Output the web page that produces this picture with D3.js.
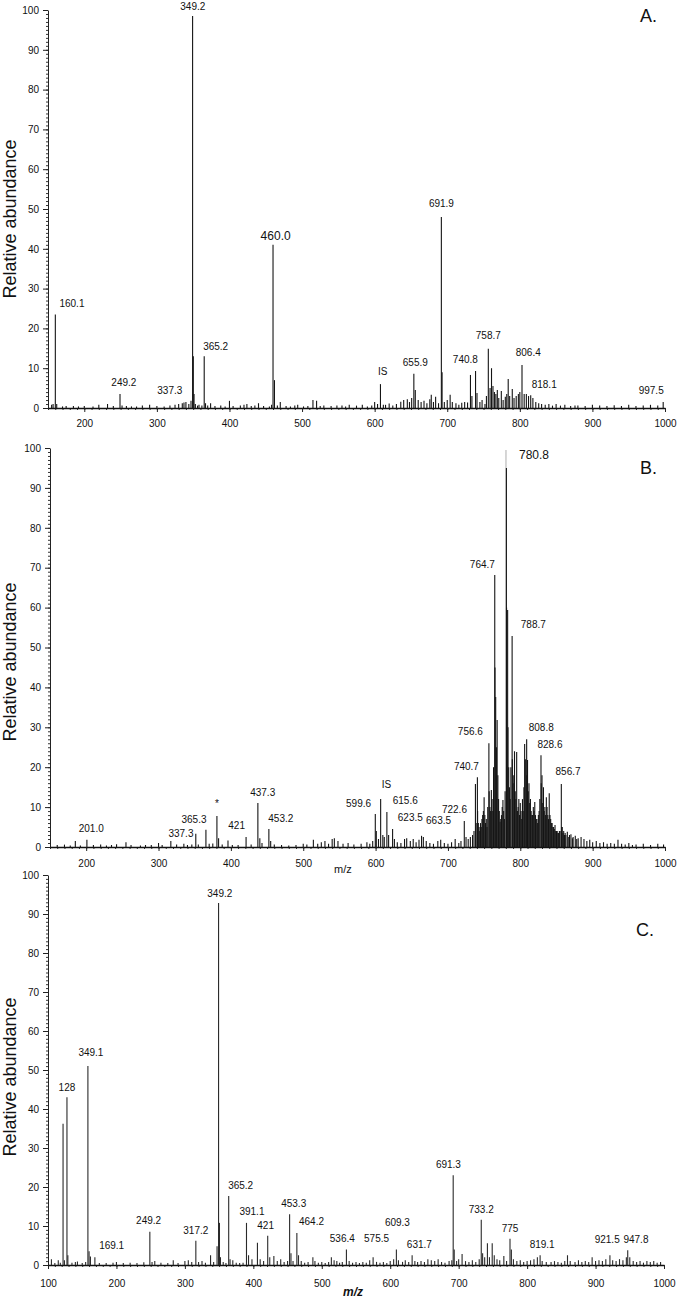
<!DOCTYPE html>
<html><head><meta charset="utf-8">
<script src="https://cdn.jsdelivr.net/npm/d3@7"></script>
<style>
body{margin:0;background:#fff}
svg{display:block}
text{font-family:"Liberation Sans",Arial,Helvetica,sans-serif;fill:#111}
</style>
</head><body>
<svg id="chart" width="677" height="1298"></svg>
<script>
// ---------- DATA ----------
const yTickValues = [0,10,20,30,40,50,60,70,80,90,100];
const xTicksA = [200,300,400,500,600,700,800,900,1000];
const xTicksB = [200,300,400,500,600,700,800,900,1000];
const xTicksC = [100,200,300,400,500,600,700,800,900,1000];

// Panel A peaks [m/z, relative abundance]
const peaksA = [
 [155,0.8],[157,1.0],[160.1,23.5],[162,1.0],[170,0.4],[175,0.5],[185,0.5],[192,0.4],[200,0.5],[212,0.4],[220,0.8],[232,1.0],[240,0.5],
 [249.2,3.5],[252,0.6],[258,0.5],[265,0.4],[272,0.4],[280,0.6],[290,0.8],[300,0.5],[310,0.4],[318,0.6],[325,0.8],[330,1.0],
 [335,1.2],[337.3,1.4],[340,1.5],[344,1.0],[347,1.8],[349.2,98.5],[350.2,13],[351.2,3.5],[353,1.0],[356,0.6],[358,0.8],[362,0.6],
 [365.2,13],[367,1.2],[370,0.6],[374,1.2],[380,0.5],[388,0.6],[394,0.4],[400,1.8],[405,0.5],[415,0.6],[420,0.8],[424,1.0],
 [430,0.5],[435,0.6],[440,1.2],[447,0.5],[455,0.4],[458,0.8],[460,41],[462,7],[466,0.6],[470,1.5],[478,0.5],[484,0.4],[490,0.6],
 [494,0.8],[502,0.4],[508,0.5],[515,2.0],[520,1.8],[525,0.5],[530,0.6],[540,0.5],[548,0.6],[555,0.6],[560,0.4],[565,0.8],[575,0.6],
 [583,0.8],[590,0.4],[596,0.6],[600,1.5],[604,1.0],[608,6.0],[612,0.8],[615,0.8],[620,1.1],[625,0.6],[630,1.0],[636,1.6],[640,2.0],
 [645,2.2],[648,1.5],[651,2.5],[654,8.6],[656,4.5],[660,2.0],[664,1.5],[668,1.8],[672,1.2],[676,2.2],[678,3.3],[681,1.5],[684,2.8],
 [688,1.2],[691.9,48],[692.9,9],[696,1.5],[700,2.0],[704,3.3],[707,1.5],[712,1.2],[716,0.8],[720,1.3],[724,1.5],[728,1.4],
 [732,8.3],[734,3.0],[739,9.3],[741,3.8],[745,1.5],[748,2.0],[752,1.0],[754,3.0],[756.6,14.9],[759,5.0],[761,10],[763,5.5],
 [765,4.0],[767,3.5],[769,4.5],[771,2.5],[774.5,4.3],[777,2.0],[780,2.8],[782,3.5],[784,7.3],[786,3.0],[789.6,4.8],[792,2.5],
 [795,3.0],[798,3.5],[800,4.0],[803,10.8],[806,3.5],[809,3.5],[812,3.0],[815,3.2],[818,2.5],[822,1.5],[826,1.2],[830,1.0],
 [835,0.8],[840,1.0],[845,0.6],[850,1.0],[856,0.6],[862,0.8],[870,0.5],[876,0.6],[880,0.6],[890,0.5],[900,0.8],[910,0.6],
 [920,0.5],[930,0.7],[940,0.5],[950,0.8],[960,0.5],[970,0.6],[980,0.8],[990,0.6],[997.5,1.5]
];
// Panel A labels [text, m/z, abundance]
const labelsA = [
 ["349.2",349.5,100.1],["460.0",463.6,42.2],["691.9",692,50.5],["160.1",183,25.4],["365.2",381,14.6],
 ["249.2",254.5,5.5],["337.3",317.8,3.5],["IS",611,8.3],["655.9",656,10.6],["740.8",725,11.3],
 ["758.7",756.6,17.3],["806.4",811.6,13],["818.1",833.6,5],["997.5",981,3.5]
];

// Panel B peaks
const peaksB = [
 [160,0.5],[170,0.6],[178,0.4],[185,1.5],[192,0.4],[201,1.8],[210,0.5],[220,0.6],[228,0.4],[235,0.5],[242,0.7],[255,1.2],[262,0.5],
 [275,0.4],[282,0.5],[290,0.5],[300,1.0],[305,0.5],[317,1.5],[325,0.6],[335,0.8],[340,0.5],[346,0.6],[351.5,3.3],[355,0.6],
 [365.5,4.3],[370,0.8],[375,0.9],[380.7,7.8],[383,2.2],[388,0.6],[396,1.6],[402,0.5],[410,0.5],[421,2.5],[428,0.6],[437.3,11],
 [440,2.2],[443,1.0],[452.5,4.5],[455,1.5],[460,0.6],[470,0.5],[480,0.4],[490,0.5],[500,0.8],[505,0.6],[514,1.8],[520,0.8],
 [525,1.2],[530,1.5],[535,0.8],[540,2.0],[543,2.2],[548,1.5],[555,0.8],[562,1.0],[570,0.6],[580,0.8],[588,1.2],[592,0.8],
 [596,1.5],[599.6,8.3],[601,4.0],[604,2.0],[607,12],[610,3.0],[612,2.5],[615.6,8.8],[618,3.0],[623.5,4.5],[626,2.0],[630,1.2],
 [635,1.0],[640,2.0],[643,2.2],[648,1.5],[652,2.0],[656,1.2],[660,1.8],[663.5,2.8],[666,2.5],[670,1.5],[675,1.0],[680,0.8],
 [686,1.5],[690,1.8],[695,1.0],[700,0.8],[705,1.2],[710,2.0],[715,1.0],[718,1.5],[722.6,6.5],[725,2.5],[728,2.0],[731,2.5],
 [734,3.0],[736,4.0],[738,15.8],[740.7,17.5],[742,6.0],[744,4.0],[746,5.0],[748,8.0],[750,12.5],[752,6.0],[754,5.0],
 [756.6,26],[758,10],[760,14.3],[762,9.0],[764.7,68.2],[766,37.6],[768,31.8],[770,12],[772,6.3],[774,8.0],[776,11.8],[778,7.0],
 [780.8,95],[782.5,59.4],[784,20],[786,12],[788.7,52.9],[790,16],[792,24],[795,23.8],[797,10],[800,11],[802,7.0],[804,9.0],
 [806,25.8],[808.8,27],[810,21.8],[812,16],[814,12],[816,8.0],[818,10],[820,11.3],[822,7.0],[824,6.0],[826,9.0],[828.6,23],
 [830,18],[832,15],[834,10],[836,12.5],[838,8.0],[840,13.5],[842,7.0],[844,6.0],[846,5.0],[848,5.5],[850,4.0],[852,3.5],
 [854,4.0],[856.7,15.8],[858,5.0],[860,4.0],[862,3.5],[865,3.8],[868,3.0],[870,3.2],[873,2.5],[876,2.8],[880,2.2],[884,2.5],
 [888,2.0],[892,1.5],[896,1.8],[900,1.2],[905,1.5],[910,1.0],[915,1.2],[920,0.8],[925,1.0],[930,0.8],[935,1.8],[940,0.8],
 [945,0.6],[950,1.0],[955,0.5],[960,0.6],[970,0.8],[980,0.5],[990,0.8],[998,0.6],
 // fill of the dense cluster
 [739,6],[741,9],[743,5],[745,6],[747,7],[749,9],[751,8],[753,7],[755,10],[757,14],[759,9],[761,12],[763,20],[765,45],
 [767,25],[769,18],[771,9],[773,7],[775,10],[777,9],[779,14],[781,60],[783,30],[785,15],[787,20],[789,22],[791,18],[793,14],
 [794,12],[796,9],[798,12],[799,8],[801,9],[803,12],[805,15],[807,22],[809,18],[811,14],[813,11],[815,9],[817,8],[819,9],
 [821,8],[823,7],[825,8],[827,12],[829,16],[831,11],[833,9],[835,8],[837,10],[839,7],[841,8],[843,6],[845,5],[847,4.5],
 [849,4],[851,4],[853,3.5],[855,4],[857,5],[859,3.5],[861,3],[863,3],[867,2.5],[872,2.2],[878,2]
];
const peaksBFaint = [[780.2,99.5]];
const labelsB = [
 ["780.8",819,97.2],["764.7",747.6,69.9],["788.7",818,54.9],["756.6",731,28],["808.8",829,29],["828.6",841,24.8],
 ["740.7",725.5,19.3],["856.7",866,18],["IS",615,14.8],["599.6",576.5,10],["615.6",641,10.8],["722.6",709,8.5],
 ["623.5",648,6.5],["663.5",687,5.8],["201.0",207,3.8],["337.3",331,2.5],["365.3",349,6],["*",380.7,10],
 ["421",408,4.5],["437.3",444,12.8],["453.2",469,6.3]
];

// Panel C peaks
const peaksC = [
 [105,1.5],[110,0.5],[115,1.2],[118,0.6],[122,36.2],[124,1.2],[127.7,43],[129,2.5],[135,0.6],[140,0.8],[143,0.9],[150,0.5],
 [155,0.8],[158.3,51],[160,3.5],[162,2.2],[168.5,2.0],[175,0.5],[185,0.5],[195,0.6],[200,0.8],[210,0.5],[220,0.6],[230,0.5],
 [240,0.7],[248.8,8.5],[252,0.8],[256,1.0],[265,0.6],[275,0.5],[283,1.2],[290,0.5],[300,1.0],[305,1.2],[310,0.8],[316,6.2],
 [320,0.8],[325,1.0],[330,0.6],[337.5,2.5],[342,0.8],[347,4.8],[349.2,92.8],[350.5,10.8],[352,2.0],[356,0.8],[360,0.5],
 [364,17.7],[366,1.5],[370,1.2],[375,0.6],[380,0.5],[385,0.6],[390,10.8],[393,2.5],[398,1.5],[406,5.7],[410,1.5],[415,1.0],
 [421,7.5],[424,2.0],[430,2.3],[435,1.0],[440,1.5],[445,0.8],[450,1.0],[453,13],[455,3.0],[458,1.0],[463.6,8.2],[466,2.5],
 [470,1.0],[475,0.6],[480,0.8],[487,2.0],[490,1.0],[495,0.6],[500,0.8],[505,0.5],[510,0.8],[514,2.0],[518,1.2],[522,1.0],
 [526,0.6],[530,0.8],[536,4.0],[540,1.0],[545,0.6],[550,0.8],[555,0.5],[560,0.8],[565,0.6],[570,1.2],[575,2.0],[580,0.8],
 [585,0.6],[590,0.8],[595,0.5],[600,1.0],[605,1.5],[609,4.0],[612,1.2],[618,0.8],[622,1.2],[627,0.8],[632,2.5],[636,1.0],
 [640,0.8],[645,1.0],[650,0.8],[655,1.5],[660,1.2],[665,1.0],[670,1.5],[675,0.8],[680,0.6],[686,1.0],[690,1.2],[692,23],
 [693.5,4.0],[697,1.0],[700,1.5],[705,2.8],[710,1.0],[715,0.8],[720,1.2],[725,0.8],[730,1.5],[733,11.6],[735,3.0],[738,2.0],
 [742,5.6],[745,2.0],[749,5.6],[752,2.5],[756,1.5],[760,1.2],[766,2.3],[770,1.0],[775,6.7],[777,4.0],[780,1.5],[785,1.0],
 [790,1.2],[795,0.8],[800,1.0],[805,1.2],[810,1.5],[815,2.0],[819,2.5],[822,1.0],[828,0.8],[835,0.8],[840,1.0],[845,0.8],
 [850,0.6],[855,1.0],[859,2.5],[863,1.0],[870,0.8],[875,1.2],[880,0.8],[885,1.0],[890,0.8],[895,2.0],[900,1.0],[905,1.2],
 [910,1.0],[915,1.5],[921,2.5],[925,1.2],[930,1.0],[935,1.5],[940,1.2],[945,2.0],[947,3.8],[950,2.0],[955,1.0],[960,0.8],
 [965,1.0],[970,0.6],[975,1.0],[980,0.8],[985,1.0],[990,0.6],[995,0.8]
];
const labelsC = [
 ["349.2",351,94.3],["349.1",162.7,53.5],["128",127.7,44.7],["169.1",193,4.1],["249.2",247,10.5],["317.2",316,8],
 ["365.2",381.5,19.5],["391.1",398,12.9],["421",418,9.3],["453.3",459,14.9],["464.2",485,10.3],["536.4",530,5.9],
 ["575.5",580,5.9],["609.3",610.5,10],["631.7",642.6,4.4],["691.3",685,25],["733.2",733,13.4],["775",775,8.5],
 ["819.1",822,4.4],["921.5",917,5.7],["947.8",959,5.7]
];

// ---------- LAYOUT ----------
const svg = d3.select("#chart");
const panels = [
 {peaks:peaksA, faint:[], labels:labelsA, domain:[150,1000], ticks:xTicksA, left:48, right:665, base:408, top:10,
  letter:"A.", lx:640, ly:22, titleY:219, big:"460.0", pad:8, color:"#151515"},
 {peaks:peaksB, faint:peaksBFaint, labels:labelsB, domain:[150,1000], ticks:xTicksB, left:50, right:665, base:847, top:448,
  letter:"B.", lx:640, ly:474, titleY:662, big:"780.8", pad:9, color:"#151515"},
 {peaks:peaksC, faint:[], labels:labelsC, domain:[100,1000], ticks:xTicksC, left:48, right:664, base:1265, top:875,
  letter:"C.", lx:636, ly:936, titleY:1077, big:null, pad:11, color:"#2a2a2a"}
];
const fmt = d3.format("d");

panels.forEach(p => {
  const x = d3.scaleLinear().domain(p.domain).range([p.left, p.right]);
  const y = d3.scaleLinear().domain([0,100]).range([p.base, p.top]);
  const g = svg.append("g");

  // minor y ticks
  g.append("g").attr("transform",`translate(${p.left},0)`)
    .call(d3.axisLeft(y).tickValues(d3.range(0,101,1)).tickSize(2).tickFormat(""))
    .call(a=>a.select(".domain").remove())
    .selectAll("line").attr("stroke","#333");
  // major y axis
  const ya = g.append("g").attr("transform",`translate(${p.left},0)`)
    .call(d3.axisLeft(y).tickValues(yTickValues).tickSize(5).tickPadding(4).tickSizeOuter(0).tickFormat(fmt));
  ya.select(".domain").attr("stroke","#222");
  ya.selectAll("line").attr("stroke","#222");
  ya.selectAll("text").attr("font-size",10).attr("fill","#222")
    .style("font-family","'Liberation Sans',Arial,sans-serif");

  // minor x ticks
  g.append("g").attr("transform",`translate(0,${p.base})`)
    .call(d3.axisBottom(x).tickValues(d3.range(p.domain[0],p.domain[1]+1,10)).tickSize(2).tickFormat(""))
    .call(a=>a.select(".domain").remove())
    .selectAll("line").attr("stroke","#333");
  const xa = g.append("g").attr("transform",`translate(0,${p.base})`)
    .call(d3.axisBottom(x).tickValues(p.ticks).tickSize(4).tickPadding(p.pad).tickSizeOuter(0).tickFormat(fmt));
  xa.select(".domain").attr("stroke","#111").attr("stroke-width",1.3);
  xa.selectAll("line").attr("stroke","#222");
  xa.selectAll("text").attr("font-size",10).attr("fill","#222")
    .style("font-family","'Liberation Sans',Arial,sans-serif");

  // faint peaks (drawn beneath)
  g.append("g").selectAll("line").data(p.faint).join("line")
    .attr("x1",d=>x(d[0])).attr("x2",d=>x(d[0]))
    .attr("y1",y(0)).attr("y2",d=>y(d[1]))
    .attr("stroke","#bbb").attr("stroke-width",1.2);

  // sticks
  g.append("g").selectAll("line").data(p.peaks).join("line")
    .attr("x1",d=>x(d[0])).attr("x2",d=>x(d[0]))
    .attr("y1",y(0)).attr("y2",d=>y(d[1]))
    .attr("stroke",p.color).attr("stroke-width",1.1);

  // labels
  g.append("g").selectAll("text").data(p.labels).join("text")
    .attr("x",d=>x(d[1])).attr("y",d=>y(d[2]))
    .attr("text-anchor","middle")
    .attr("font-size",d=>d[0]===p.big?12:10)
    .attr("fill","#222")
    .text(d=>d[0]);

  // panel letter
  g.append("text").attr("x",p.lx).attr("y",p.ly).attr("font-size",18).attr("fill","#111").text(p.letter);

  // y title
  g.append("text").attr("transform",`translate(16,${p.titleY}) rotate(-90)`)
    .attr("text-anchor","middle").attr("font-size",18).attr("fill","#111").text("Relative abundance");
});

// x-axis titles
svg.append("text").attr("x",334).attr("y",873).attr("font-size",11).attr("fill","#222").text("m/z");
svg.append("text").attr("x",343).attr("y",1296).attr("font-size",12).attr("font-weight","bold")
  .attr("font-style","italic").attr("fill","#222").text("m/z");
</script>
</body></html>
